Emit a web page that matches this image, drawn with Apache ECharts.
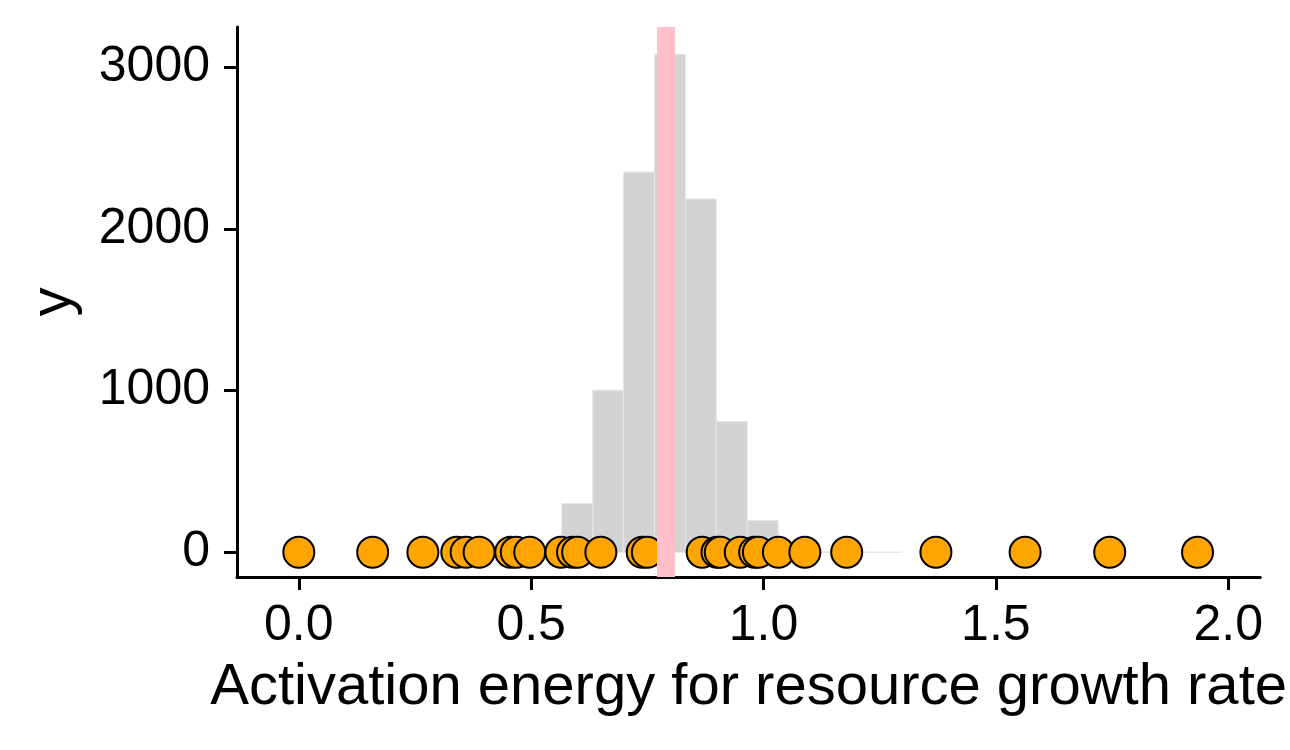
<!DOCTYPE html>
<html><head><meta charset="utf-8">
<script src="https://cdn.jsdelivr.net/npm/echarts@6/dist/echarts.min.js"></script>
<style>html,body{margin:0;padding:0;background:#fff}#c{width:1290px;height:750px}</style>
</head><body><div id="c"></div>
<script>
const binEdges = [0.566, 0.6325, 0.699, 0.7655, 0.832, 0.8985, 0.965, 1.0315, 1.098, 1.1645, 1.231, 1.2975];
const binCounts = [301, 1003, 2353, 3082, 2187, 809, 197, 4, 2, 1, 1];
const pointX = [0.0, 0.159, 0.267, 0.340, 0.360, 0.388, 0.456, 0.468, 0.497, 0.564, 0.589, 0.600, 0.650,
  0.739, 0.750, 0.868, 0.900, 0.907, 0.950, 0.981, 0.989, 1.032, 1.089, 1.179, 1.371, 1.563, 1.745, 1.934];
const refLine = 0.7936;
const xTicks = [0, 0.5, 1, 1.5, 2];
const yTicks = [0, 1000, 2000, 3000];
const xTitle = 'Activation energy for resource growth rate';
const yTitle = 'y';

const histData = binCounts.map((c, i) => [binEdges[i], binEdges[i + 1], c]);
const pointData = pointX.map(x => [x, 0]);
const FONT = '"Liberation Sans", Arial, Helvetica, sans-serif';

const chart = echarts.init(document.getElementById('c'), null, {renderer: 'canvas'});
chart.setOption({
  animation: false,
  backgroundColor: '#ffffff',
  grid: {left: 237, right: 27, top: 27, bottom: 173, containLabel: false},
  xAxis: {
    type: 'value', min: -0.133, max: 2.069,
    name: xTitle, nameLocation: 'middle', nameGap: 82,
    nameTextStyle: {fontSize: 58, color: '#000', fontFamily: FONT},
    axisLine: {show: true, onZero: false, lineStyle: {color: '#000', width: 3}},
    axisTick: {show: true, customValues: xTicks, length: 13, lineStyle: {color: '#000', width: 3}},
    axisLabel: {customValues: xTicks, formatter: v => v.toFixed(1), fontSize: 50, color: '#000', fontFamily: FONT, margin: 24},
    splitLine: {show: false}
  },
  yAxis: {
    type: 'value', min: -153, max: 3251,
    name: yTitle, nameLocation: 'middle', nameGap: 154,
    nameTextStyle: {fontSize: 58, color: '#000', fontFamily: FONT},
    axisLine: {show: true, onZero: false, lineStyle: {color: '#000', width: 3}},
    axisTick: {show: true, customValues: yTicks, length: 13, lineStyle: {color: '#000', width: 3}},
    axisLabel: {customValues: yTicks, formatter: v => String(v), fontSize: 50, color: '#000', fontFamily: FONT, margin: 27},
    splitLine: {show: false}
  },
  series: [
    {
      type: 'custom', z: 1,
      data: histData,
      encode: {x: [0, 1], y: 2},
      renderItem: function (params, api) {
        const p0 = api.coord([api.value(0), api.value(2)]);
        const p1 = api.coord([api.value(1), 0]);
        return {
          type: 'rect',
          shape: {x: p0[0], y: p0[1], width: p1[0] - p0[0], height: p1[1] - p0[1]},
          style: {fill: '#d3d3d3', stroke: '#e6e6e6', lineWidth: 1}
        };
      }
    },
    {
      type: 'line', z: 2, data: [], symbol: 'none',
      markLine: {
        silent: true, symbol: 'none', label: {show: false},
        lineStyle: {color: '#ffc0cb', width: 18, type: 'solid'},
        data: [{xAxis: refLine}]
      }
    },
    {
      type: 'scatter', z: 3,
      data: pointData,
      symbol: 'circle', symbolSize: 31,
      itemStyle: {color: '#ffa500', borderColor: '#000', borderWidth: 2, opacity: 1}
    }
  ]
});
</script></body></html>
